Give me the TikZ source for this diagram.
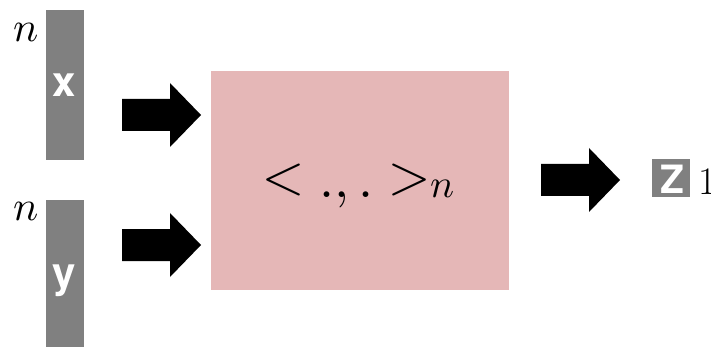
\documentclass[tikz,border=0pt]{standalone}
\usepackage{fontspec}
\usepackage{unicode-math}
\setmathfont{Latin Modern Math}
\setsansfont{TeX Gyre Heros}
\definecolor{bargray}{HTML}{808080}
\definecolor{boxpink}{HTML}{E5B7B7}
\newcommand{\rrel}[1]{\mathrel{\raisebox{4pt}{$#1$}}}
\tikzset{
  bar/.style={fill=bargray, draw=none, inner sep=0pt, minimum width=38pt},
  barletter/.style={text=white, font=\sffamily\bfseries\fontsize{42}{50}\selectfont, inner sep=0pt, anchor=base},
  dimlabel/.style={font=\fontsize{42}{48}\selectfont, inner sep=0pt, anchor=base},
  blockarr/.pic={\fill[black] (-79,-16) -- (-31,-16) -- (-31,-32) -- (0,0) -- (-31,32) -- (-31,16) -- (-79,16) -- cycle;}
}
\begin{document}
\begin{tikzpicture}[x=1pt, y=-1pt]
\useasboundingbox (0,0) rectangle (711,347);
% input bars
\node[bar, minimum height=150pt] (xbar) at (65,85) {};
\node[bar, minimum height=147pt] (ybar) at (65,273.5) {};
\node[barletter] (xl) at (64,97) {x};
\node[barletter] (yl) at (64,287) {y};
\node[dimlabel] (nx) at (26,42) {$n$};
\node[dimlabel] (ny) at (26,221) {$n$};
% operation box
\node[fill=boxpink, inner sep=0pt, minimum width=298pt, minimum height=219pt] (op) at (360,180.5) {};
\node[inner sep=0pt, anchor=base west, font=\fontsize{54}{62}\selectfont] (formula) at (262,197)
  {$\rrel{<}.,.\rrel{>}$\fontsize{40}{46}\selectfont$n$};
% arrows
\coordinate (a1) at (201,115);
\coordinate (a2) at (201,245);
\coordinate (a3) at (620,180);
\pic at (a1) {blockarr};
\pic at (a2) {blockarr};
\pic at (a3) {blockarr};
% output
\node[fill=bargray, inner sep=0pt, minimum width=38pt, minimum height=38pt] (zbox) at (671,178) {};
\node[text=white, font=\sffamily\bfseries\fontsize{39}{45}\selectfont, inner sep=0pt, anchor=base] (zl) at (672,194) {Z};
\node[inner sep=0pt, anchor=base west, font=\fontsize{39}{45}\selectfont] (one) at (698,195) {1};
\end{tikzpicture}
\end{document}
